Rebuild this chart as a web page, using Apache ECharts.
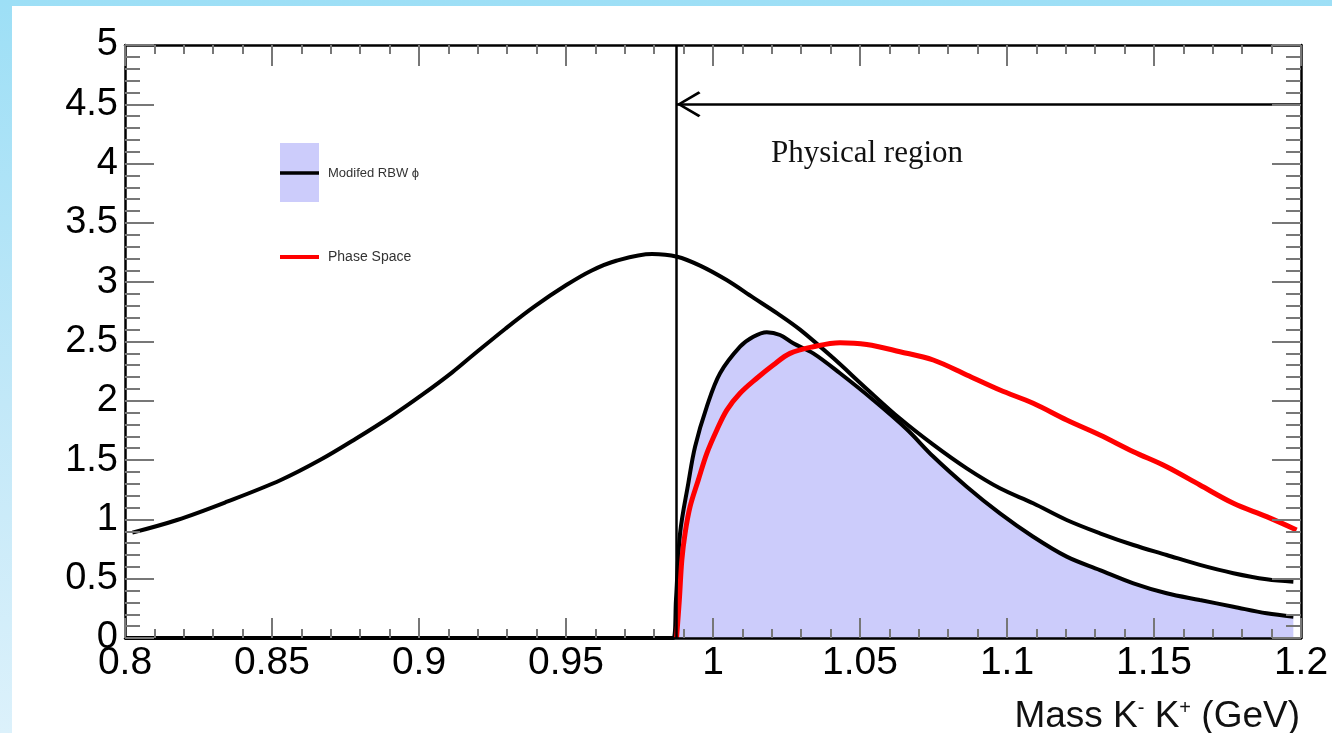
<!DOCTYPE html>
<html><head><meta charset="utf-8">
<script src="https://cdn.jsdelivr.net/npm/echarts@6/dist/echarts.min.js"></script>
<style>
html,body{margin:0;padding:0;width:1332px;height:733px;overflow:hidden;background:linear-gradient(to bottom,#9ddff6 0%,#c2e8f8 55%,#dcf1fb 100%);}
#panel{position:absolute;left:12px;top:6px;width:1320px;height:727px;background:#fff;}
</style></head><body><div id="panel"></div>
<script>
// K- K+ invariant mass threshold (GeV)
const threshold = 0.9876;
const arrowLevel = 4.5;

// Broad (unmodified) RBW curve
const rbwX = [0.8025,0.8177,0.8347,0.853,0.8663,0.8785,0.8906,0.9016,0.9113,0.9186,0.9295,0.9392,0.9501,0.9586,0.9671,0.9793,0.9878,0.9956,1.0045,1.0137,1.022,1.0296,1.0409,1.0523,1.0636,1.0749,1.0863,1.0976,1.1089,1.1203,1.1316,1.143,1.1543,1.1656,1.177,1.1883,1.1974];
const rbwY = [0.888,0.995,1.149,1.332,1.50,1.68,1.87,2.06,2.24,2.39,2.61,2.794,2.976,3.097,3.181,3.238,3.215,3.14,3.02,2.87,2.735,2.60,2.36,2.10,1.85,1.63,1.43,1.262,1.136,0.995,0.883,0.784,0.70,0.616,0.546,0.495,0.475];

// Modified RBW phi (filled)
const modX = [0.8,0.9865,0.9874,0.9888,0.9916,0.9939,0.9979,1.0024,1.0092,1.0137,1.0183,1.0228,1.0273,1.0341,1.0432,1.0545,1.0659,1.0749,1.0863,1.0976,1.1089,1.1203,1.1316,1.143,1.1543,1.1656,1.177,1.1883,1.1974];
const modY = [0,0,0.32,0.883,1.304,1.613,1.951,2.232,2.456,2.54,2.578,2.555,2.485,2.40,2.232,2.007,1.76,1.53,1.276,1.051,0.854,0.686,0.573,0.461,0.377,0.32,0.264,0.208,0.18];

// Phase space
const psX = [0.9876,0.98855,0.9894,0.9905,0.9922,0.995,0.9979,1.0013,1.0047,1.0092,1.0149,1.0205,1.0262,1.0341,1.0432,1.0523,1.0636,1.0749,1.0863,1.0976,1.1089,1.1203,1.1316,1.143,1.1543,1.1656,1.177,1.1883,1.1985];
const psY = [0,0.32,0.658,0.883,1.107,1.332,1.557,1.754,1.922,2.063,2.19,2.302,2.40,2.456,2.49,2.475,2.414,2.344,2.218,2.091,1.979,1.838,1.712,1.571,1.444,1.29,1.136,1.023,0.911];

const legendNames = ['Modifed RBW \u03d5', 'Phase Space'];
const regionLabel = 'Physical region';

const zip = (xs, ys) => xs.map((x, i) => [x, ys[i]]);

const tickStyle = {color: '#777', width: 2};
const lineAxis = {onZero: false, lineStyle: {color: '#000', width: 2.5}};
const sans = 'Liberation Sans, Arial, sans-serif';

const chart = echarts.init(document.getElementById('panel'), null, {renderer: 'canvas'});
chart.setOption({
  animation: false,
  backgroundColor: '#fff',
  grid: {left: 113, right: 31, top: 39, bottom: 95},
  xAxis: [
    {type: 'value', min: 0.8, max: 1.2, interval: 0.05, position: 'bottom', z: 5,
     axisLine: lineAxis, splitLine: {show: false},
     axisTick: {inside: true, length: 20, lineStyle: tickStyle},
     minorTick: {show: true, splitNumber: 5, length: 9, lineStyle: tickStyle},
     axisLabel: {margin: 6, fontSize: 39, fontFamily: sans, color: '#000'}},
    {type: 'value', min: 0.8, max: 1.2, interval: 0.05, position: 'top', z: 5,
     axisLine: lineAxis, splitLine: {show: false},
     axisTick: {inside: true, length: 21, lineStyle: tickStyle},
     minorTick: {show: true, splitNumber: 5, length: 9, lineStyle: tickStyle},
     axisLabel: {show: false}}
  ],
  yAxis: [
    {type: 'value', min: 0, max: 5, interval: 0.5, position: 'left', z: 5,
     axisLine: lineAxis, splitLine: {show: false},
     axisTick: {inside: true, length: 29, lineStyle: tickStyle},
     minorTick: {show: true, splitNumber: 5, length: 15, lineStyle: tickStyle},
     axisLabel: {margin: 7, fontSize: 38, fontFamily: sans, color: '#000'}},
    {type: 'value', min: 0, max: 5, interval: 0.5, position: 'right', z: 5,
     axisLine: lineAxis, splitLine: {show: false},
     axisTick: {inside: true, length: 29, lineStyle: tickStyle},
     minorTick: {show: true, splitNumber: 5, length: 15, lineStyle: tickStyle},
     axisLabel: {show: false}}
  ],
  series: [
    {name: legendNames[0], type: 'line', data: zip(modX, modY), showSymbol: false,
     smooth: 0.35, z: 2,
     lineStyle: {color: '#000', width: 4},
     areaStyle: {color: '#ccccfb', opacity: 1},
     markLine: {silent: true, animation: false, label: {show: false},
       lineStyle: {color: '#000', width: 2.5, type: 'solid'},
       symbol: ['none', 'none'],
       data: [
         [{coord: [threshold, 0], symbol: 'none'}, {coord: [threshold, 5], symbol: 'none'}],
         [{coord: [threshold, arrowLevel], symbol: 'path://M13,0 L26,22 L24,24 L13,5 L2,24 L0,22 Z', symbolSize: [26, 24], symbolOffset: [0, 12]},
          {coord: [1.2, arrowLevel], symbol: 'none'}]
       ]}},
    {name: 'RBW', type: 'line', data: zip(rbwX, rbwY), showSymbol: false,
     smooth: 0.35, z: 3,
     lineStyle: {color: '#000', width: 4}},
    {name: legendNames[1], type: 'line', data: zip(psX, psY), showSymbol: false,
     smooth: 0.35, z: 4,
     lineStyle: {color: '#ff0000', width: 5}}
  ],
  graphic: [
    {type: 'rect', shape: {x: 268, y: 137, width: 39, height: 59}, style: {fill: '#ccccfb'}},
    {type: 'line', shape: {x1: 268, y1: 167, x2: 307, y2: 167}, style: {stroke: '#000', lineWidth: 3.5}},
    {type: 'text', x: 316, y: 167, style: {text: legendNames[0], fontSize: 13, fontFamily: sans, fill: '#333', textVerticalAlign: 'middle'}},
    {type: 'line', shape: {x1: 268, y1: 251, x2: 307, y2: 251}, style: {stroke: '#ff0000', lineWidth: 4}},
    {type: 'text', x: 316, y: 251, style: {text: legendNames[1], fontSize: 14, fontFamily: sans, fill: '#333', textVerticalAlign: 'middle'}},
    {type: 'text', x: 855, y: 148, style: {text: regionLabel, fontSize: 31, fontFamily: 'Liberation Serif, Times New Roman, serif', fill: '#111', textAlign: 'center', textVerticalAlign: 'middle'}},
    {type: 'text', x: 1288, y: 711, style: {
      text: 'Mass K{sup|-} K{sup|+} (GeV)', fontSize: 37, fontFamily: sans, fill: '#111',
      textAlign: 'right', textVerticalAlign: 'middle',
      rich: {sup: {fontSize: 20, fontFamily: sans, fill: '#111', verticalAlign: 'top'}}}}
  ]
});
</script></body></html>
